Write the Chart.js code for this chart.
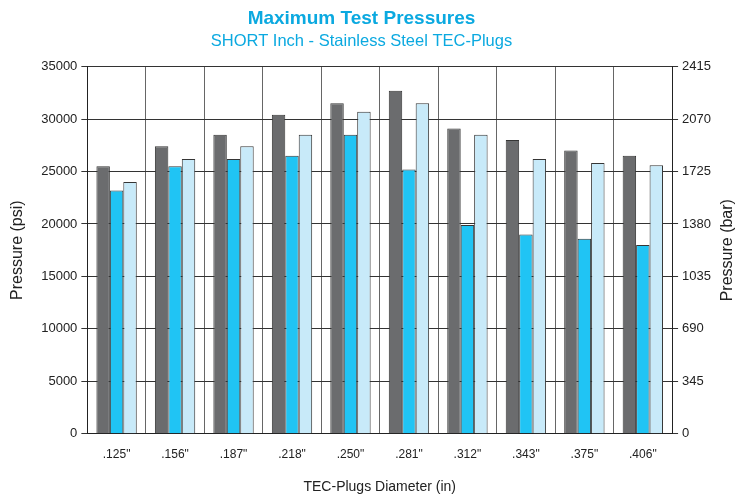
<!DOCTYPE html>
<html>
<head>
<meta charset="utf-8">
<script src="https://cdn.jsdelivr.net/npm/chart.js@4.4.1/dist/chart.umd.min.js"></script>
<style>
  html, body { margin: 0; padding: 0; background: #fff; }
  #wrap { width: 738px; height: 496px; }
</style>
</head>
<body>
<div id="wrap"><canvas id="myChart" width="738" height="496"></canvas></div>
<script>
// values (psi)
var diameters = ['.125"', '.156"', '.187"', '.218"', '.250"', '.281"', '.312"', '.343"', '.375"', '.406"'];
var darkSeries  = [25500, 27400, 28500, 30400, 31500, 32700, 29100, 28000, 27000, 26500];
var blueSeries  = [23200, 25500, 26200, 26500, 28500, 25200, 19900, 19000, 18600, 18000];
var lightSeries = [24000, 26200, 27400, 28500, 30700, 31500, 28500, 26200, 25800, 25600];
var psiTicks = [0, 5000, 10000, 15000, 20000, 25000, 30000, 35000];
var barTicks = [0, 345, 690, 1035, 1380, 1725, 2070, 2415];

var font = "'Liberation Sans', Arial, sans-serif";
var titleBlue = "#0ba9e0";
var textColor = "#222";

function plain(v) { return String(v); }

// the right axis title reads bottom-to-top in the original, so draw it here
var rightTitle = {
  id: 'rightTitle',
  afterDraw: function(chart) {
    var c = chart.ctx, a = chart.chartArea;
    c.save();
    c.translate(728, (a.top + a.bottom) / 2);
    c.rotate(-Math.PI / 2);
    c.fillStyle = textColor;
    c.font = "16px " + font;
    c.textAlign = 'center';
    c.textBaseline = 'middle';
    c.fillText('Pressure (bar)', 0, 0);
    c.restore();
  }
};

var ctx = document.getElementById("myChart").getContext('2d');
var myChart = new Chart(ctx, {
  type: 'bar',
  data: {
    labels: diameters,
    datasets: [
      { label: 'a', data: darkSeries,  backgroundColor: "#6b6c6e", borderColor: "#353535", borderWidth: 1, yAxisID: 'y' },
      { label: 'b', data: blueSeries,  backgroundColor: "#20c4f4", borderColor: "#353535", borderWidth: 1, yAxisID: 'y' },
      { label: 'c', data: lightSeries, backgroundColor: "#c8eaf9", borderColor: "#353535", borderWidth: 1, yAxisID: 'y' }
    ]
  },
  plugins: [rightTitle],
  options: {
    responsive: false,
    animation: false,
    categoryPercentage: 0.69,
    barPercentage: 1.0,
    layout: { padding: { left: 8, right: 23, top: 0, bottom: 0 } },
    plugins: {
      legend: { display: false },
      tooltip: { enabled: false },
      title: {
        display: true,
        text: 'Maximum Test Pressures',
        color: titleBlue,
        font: { family: font, size: 19, weight: 'bold' },
        padding: { top: 7, bottom: 2 }
      },
      subtitle: {
        display: true,
        text: 'SHORT Inch - Stainless Steel TEC-Plugs',
        color: titleBlue,
        font: { family: font, size: 16.5 },
        padding: { top: 0, bottom: 15 }
      }
    },
    scales: {
      x: {
        offset: true,
        grid: { offset: true, color: "#666", lineWidth: 1, drawTicks: false },
        border: { color: "#222", width: 1 },
        ticks: { color: textColor, font: { family: font, size: 12 }, padding: 14 },
        title: {
          display: true, text: 'TEC-Plugs Diameter (in)', color: textColor,
          font: { family: font, size: 14 }, padding: { top: 3, bottom: 0 }
        }
      },
      y: {
        position: 'left',
        min: 0, max: 35000,
        afterBuildTicks: function(axis) { axis.ticks = psiTicks.map(function(v) { return { value: v }; }); },
        grid: { color: "#333", lineWidth: 1, tickLength: 6 },
        border: { color: "#222", width: 1 },
        ticks: { color: textColor, font: { family: font, size: 13 }, padding: 4, callback: plain },
        title: {
          display: true, text: 'Pressure (psi)', color: textColor,
          font: { family: font, size: 16 }, padding: { top: 0, bottom: 10 }
        }
      },
      y2: {
        position: 'right',
        min: 0, max: 2415,
        afterBuildTicks: function(axis) { axis.ticks = barTicks.map(function(v) { return { value: v }; }); },
        grid: { drawOnChartArea: false, color: "#333", tickLength: 6 },
        border: { color: "#222", width: 1 },
        ticks: { color: textColor, font: { family: font, size: 13 }, padding: 4, callback: plain }
      }
    }
  }
});
</script>
</body>
</html>
